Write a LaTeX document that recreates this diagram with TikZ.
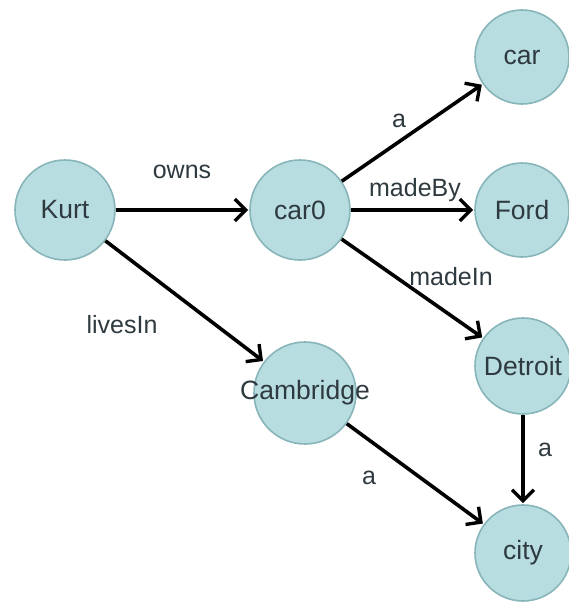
\documentclass[tikz,border=0pt]{standalone}
\usepackage{fontspec}
\setmainfont{Liberation Sans}
\usetikzlibrary{arrows.meta}
\definecolor{nodefill}{HTML}{B7DDE0}
\definecolor{nodeline}{HTML}{88B5B9}
\definecolor{txt}{HTML}{2E3A3F}
\begin{document}
\begin{tikzpicture}[x=1pt,y=-1pt,
  vnode/.style={circle,fill=nodefill,draw=nodeline,line width=1.6pt,minimum size=100pt,inner sep=0pt},
  vtext/.style={text=txt,font=\fontsize{26.5}{30}\selectfont},
  elabel/.style={text=txt,font=\fontsize{25}{28}\selectfont,inner sep=0pt},
  conn/.style={line width=3.6pt,draw=black,-{Straight Barb[length=11pt,width=22pt,line width=3.4pt]},shorten >=1pt}]
\useasboundingbox (0,0) rectangle (569,602);
\node[vnode,label={[vtext]center:Kurt}] (kurt) at (65,210) {};
\node[vnode,label={[vtext]center:car0}] (car0) at (300,210) {};
\node[vnode,minimum size=94pt,label={[vtext]center:car}] (car) at (522,57) {};
\node[vnode,minimum size=94pt,label={[vtext]center:Ford}] (ford) at (522,210) {};
\node[vnode,minimum size=96pt,label={[vtext]center:Detroit}] (detroit) at (523,366) {};
\node[vnode,minimum size=102pt,label={[vtext]center:Cambridge}] (cam) at (305,393) {};
\node[vnode,minimum size=96pt,label={[vtext]center:city}] (city) at (523,553) {};
\draw[conn] (kurt) -- (car0);
\draw[conn] (car0) -- (car);
\draw[conn] (car0) -- (ford);
\draw[conn] (car0) -- (detroit);
\draw[conn] (kurt) -- (cam);
\draw[conn] (cam) -- (city);
\draw[conn] (detroit) -- (city);
\node[elabel] (lowns) at (182,172) {owns};
\node[elabel] (la1) at (399,121) {a};
\node[elabel] (lmadeby) at (415,190) {madeBy};
\node[elabel] (lmadein) at (451,277) {madeIn};
\node[elabel] (llives) at (122,325) {livesIn};
\node[elabel] (la2) at (369,478) {a};
\node[elabel] (la3) at (545,450) {a};
\end{tikzpicture}
\end{document}
